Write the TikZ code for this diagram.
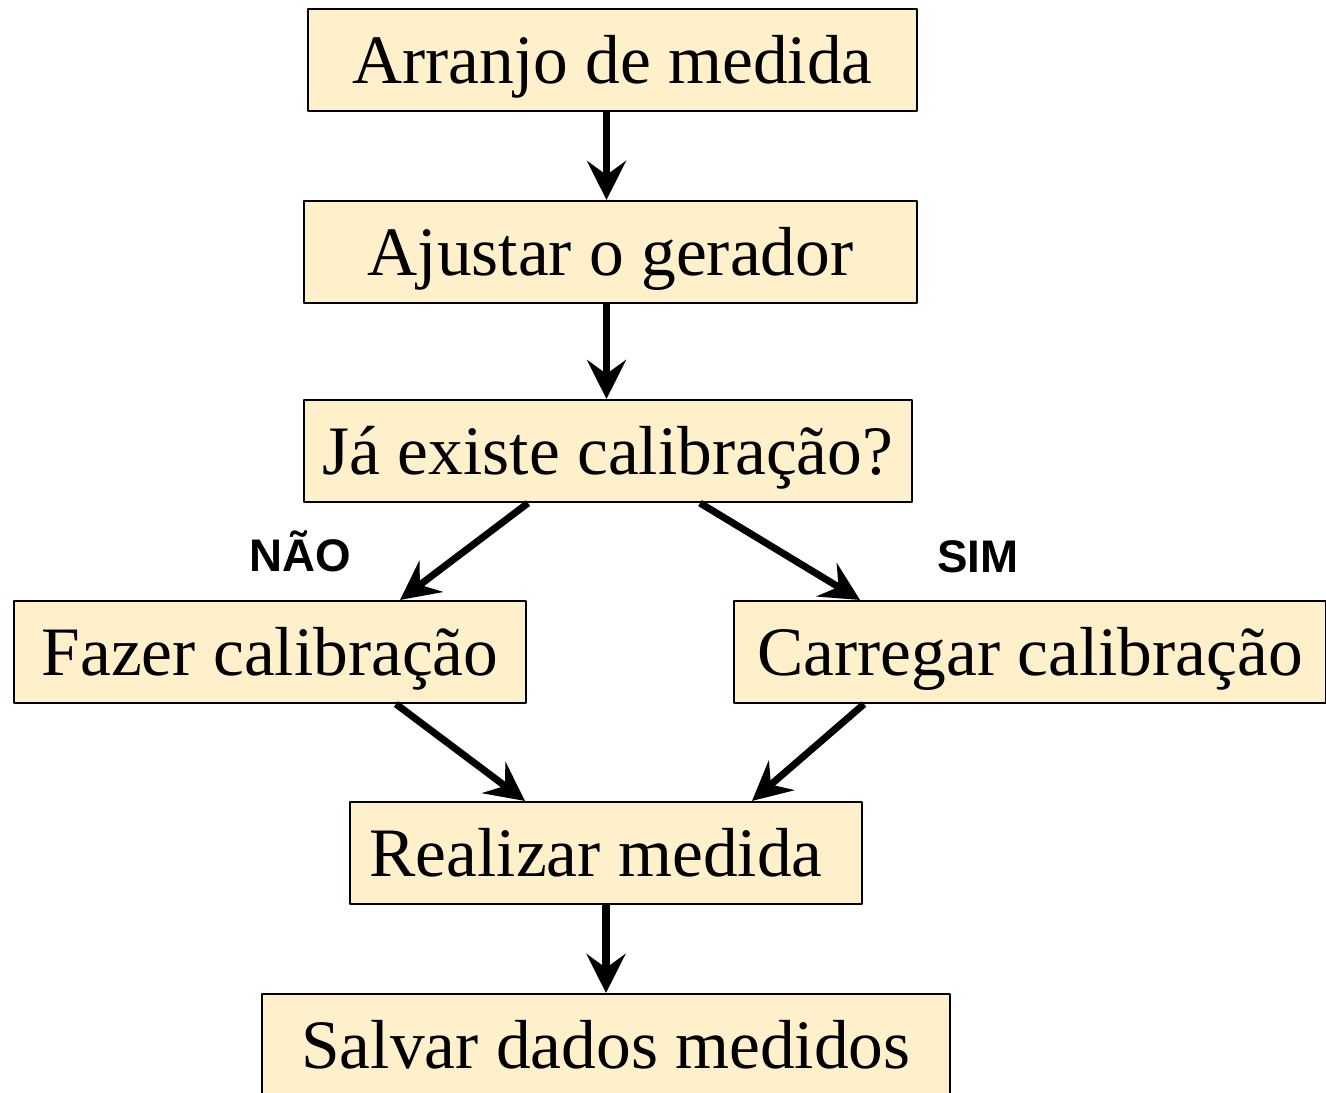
\documentclass[tikz,border=0pt]{standalone}
\usepackage{fontspec}
\setmainfont{Liberation Serif}
\newfontfamily\labelfont{Liberation Sans}
\usepackage{tikz}
\usetikzlibrary{arrows.meta,calc,positioning,shapes}
\definecolor{boxfill}{RGB}{255,240,204}

\begin{document}
\begin{tikzpicture}[>={Stealth[length=0.78cm,width=0.78cm,inset=0.28cm]},line join=bevel,
  stepbox/.style={draw,line width=1.2pt,fill=boxfill,minimum height=2.04cm,inner sep=0pt,text height=1.2cm,text depth=0.25cm,font=\fontsize{39.5}{47}\selectfont},
  flow/.style={->,line width=4pt},
  answer/.style={font=\labelfont\bfseries\fontsize{26}{31}\selectfont}]
\useasboundingbox (0,0) rectangle (26.52,-21.84);
\node [stepbox,minimum width=12.18cm] at (12.25,-1.20) (arranjo) {Arranjo de medida};
\node [stepbox,minimum width=12.26cm] at (12.21,-5.04) (ajustar) {Ajustar o gerador};
\node [stepbox,minimum width=12.16cm] at (12.16,-9.02) (existe) {J\'a existe calibra\c{c}\~ao?};
\node [stepbox,minimum width=10.24cm] at (5.40,-13.04) (fazer) {Fazer calibra\c{c}\~ao};
\node [stepbox,minimum width=11.84cm] at (20.60,-13.04) (carregar) {Carregar calibra\c{c}\~ao};
\node [stepbox,minimum width=10.24cm] at (12.12,-17.06) (realizar) {Realizar medida\kern0.4cm};
\node [stepbox,minimum width=13.76cm] at (12.12,-20.90) (salvar) {Salvar dados medidos};
\node [answer] at (6.00,-11.02) (nao) {N\~AO};
\node [answer] at (19.56,-11.14) (sim) {SIM};

\draw [flow] ([xshift=-0.12cm]arranjo.south) -- ([xshift=-0.12cm]arranjo.south |- ajustar.north);
\draw [flow] ([xshift=-0.08cm]ajustar.south) -- ([xshift=-0.08cm]ajustar.south |- existe.north);
\draw [flow] ([xshift=-1.60cm]existe.south) -- ([xshift=2.60cm]fazer.north);
\draw [flow] ([xshift=1.84cm]existe.south) -- ([xshift=-3.40cm]carregar.north);
\draw [flow] ([xshift=2.52cm]fazer.south) -- ([xshift=-1.62cm]realizar.north);
\draw [flow] ([xshift=-3.32cm]carregar.south) -- ([xshift=2.92cm]realizar.north);
\draw [flow] (realizar.south) -- (realizar.south |- salvar.north);
\end{tikzpicture}
\end{document}
